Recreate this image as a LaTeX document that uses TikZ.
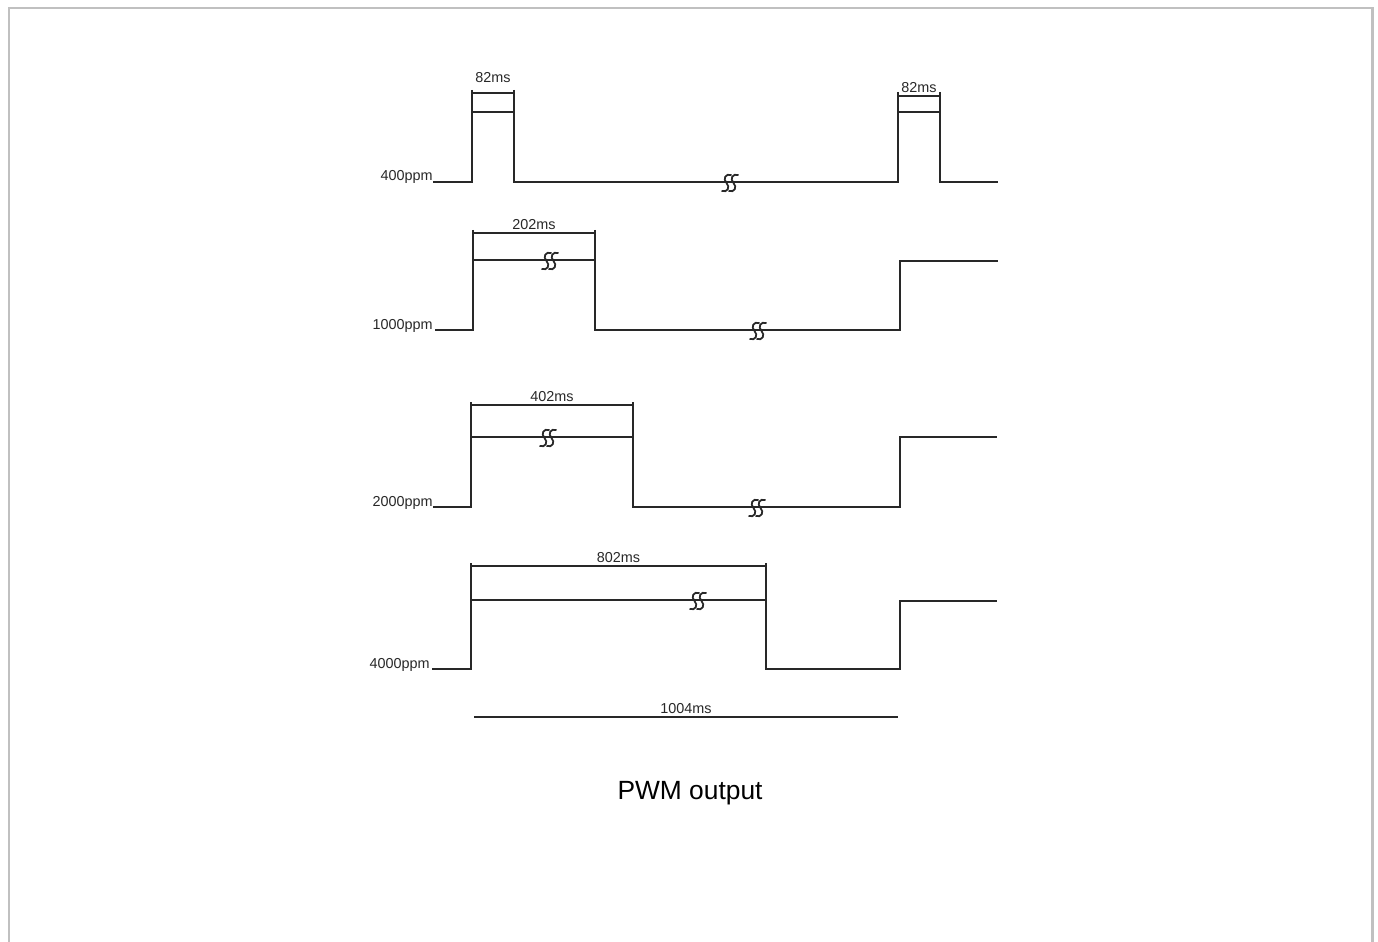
\documentclass[tikz,border=0pt]{standalone}
\usepackage{fontspec}
\setmainfont{Liberation Sans}
\usetikzlibrary{positioning}
\definecolor{sigdark}{RGB}{40, 40, 40}
\definecolor{framegray}{RGB}{192, 192, 192}
\tikzstyle{signal}=[line width=1.1pt, color=sigdark, line join=miter]
\tikzstyle{dimline}=[line width=1pt, color=sigdark]
\tikzstyle{lvl}=[anchor=base east, inner sep=0pt, text=sigdark, font=\fontsize{8.2}{9}\selectfont]
\tikzstyle{dimlabel}=[anchor=south, inner sep=1.5pt, text=sigdark, font=\fontsize{8.2}{9}\selectfont]

% break mark on a signal line
\newcommand{\wavebreak}[2]{
    \foreach \dx in {-3.5,3.5} {
        \draw[signal, line width=1pt] (#1+\dx+5,#2-7) .. controls (#1+\dx-1,#2-9) and (#1+\dx-4,#2-3) .. (#1+\dx,#2+1)
            .. controls (#1+\dx+4,#2+5) and (#1+\dx+1,#2+11) .. (#1+\dx-5,#2+9);
    }
}

\begin{document}
\begin{tikzpicture}[x=0.02cm, y=-0.02cm]
    \useasboundingbox (0,0) rectangle (1378,942);

    % Frame
    \draw[framegray, line width=1.7pt] (9,960) -- (9,8) -- (1372,8) -- (1372,960);

    % 400ppm
    \node[lvl] (l400) at (433,181) {400ppm};
    \draw[signal] (433,182) -- (472,182) -- (472,112) -- (514,112) -- (514,182)
        -- (898,182) -- (898,112) -- (940,112) -- (940,182) -- (998,182);

    % 1000ppm
    \node[lvl] (l1000) at (433,329) {1000ppm};
    \draw[signal] (435,330) -- (473,330) -- (473,260) -- (595,260) -- (595,330)
        -- (900,330) -- (900,261) -- (998,261);

    % 2000ppm
    \node[lvl] (l2000) at (433,506) {2000ppm};
    \draw[signal] (433,507) -- (471,507) -- (471,437) -- (633,437) -- (633,507)
        -- (900,507) -- (900,437) -- (997,437);

    % 4000ppm
    \node[lvl] (l4000) at (430,668) {4000ppm};
    \draw[signal] (432,669) -- (471,669) -- (471,600) -- (766,600) -- (766,669)
        -- (900,669) -- (900,601) -- (997,601);

    % Break marks
    \foreach \bx/\by in {730/182, 550/260, 758/330, 548/437, 757/507, 698/600} {
        \wavebreak{\bx}{\by}
    }

    % Pulse widths
    \foreach \xa/\xb/\yt/\yd/\yh/\ys/\txt/\nm in {472/514/90/93/112/4pt/82ms/wa, 898/940/92/96/112/0pt/82ms/wb,
        473/595/230/233/260/0pt/202ms/wc, 471/633/402/405/437/0pt/402ms/wd, 471/766/563/566/600/0pt/802ms/we} {
        \draw[dimline] (\xa,\yt) -- (\xa,\yh) (\xb,\yt) -- (\xb,\yh);
        \draw[dimline] (\xa,\yd) -- node[dimlabel, yshift=\ys] (\nm) {\txt} (\xb,\yd);
    }

    % Period
    \draw[dimline] (474,717) -- node[dimlabel] (period) {1004ms} (898,717);

    % Caption
    \node[anchor=base, inner sep=0pt, font=\fontsize{15}{18}\selectfont] (title) at (690,799) {PWM output};

\end{tikzpicture}
\end{document}
